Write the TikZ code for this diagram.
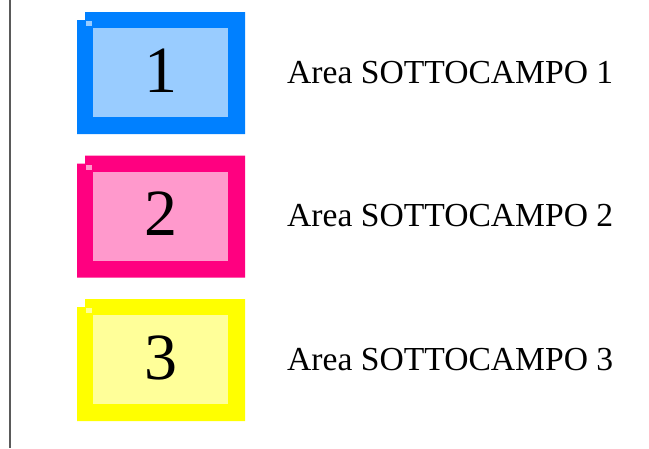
\documentclass[tikz,border=0pt]{standalone}
\usepackage{fontspec}
\setmainfont{Liberation Serif}
\definecolor{blueA}{HTML}{0080FF}
\definecolor{blueB}{HTML}{99CCFF}
\definecolor{pinkA}{HTML}{FF0080}
\definecolor{pinkB}{HTML}{FF99CC}
\definecolor{yelA}{HTML}{FFFF00}
\definecolor{yelB}{HTML}{FFFF99}
\definecolor{lineG}{HTML}{5A5A5A}
\tikzset{
  digit/.style={anchor=base, inner sep=0pt, font=\fontsize{66}{70}\selectfont},
  lbl/.style={anchor=base west, inner sep=0pt, font=\fontsize{33.6}{38}\selectfont},
}
\newcommand{\subbox}[5]{%
  % #1 y offset, #2 outer colour, #3 inner colour, #4 digit, #5 name
  \begin{scope}[yshift=-#1pt]
    \fill[#2] (85,12) -- (245,12) -- (245,134) -- (77,134) -- (77,20) -- (85,20) -- cycle;
    \fill[#3] (93,28) rectangle (228,117);
    \fill[#3] (86,21) rectangle (92,26);
    \node[digit] (#5d) at (160.5,92) {#4};
    \node[lbl] (#5t) at (287,83) {Area SOTTOCAMPO #4};
  \end{scope}}
\begin{document}
\begin{tikzpicture}[x=1pt,y=-1pt]
\useasboundingbox (0,0) rectangle (649,448);
\fill[white] (0,0) rectangle (649,448);
\draw[lineG, line width=2pt] (9.5,0) -- (9.5,448);
\subbox{0}{blueA}{blueB}{1}{a}
\subbox{143.5}{pinkA}{pinkB}{2}{b}
\subbox{287}{yelA}{yelB}{3}{c}
\end{tikzpicture}
\end{document}
